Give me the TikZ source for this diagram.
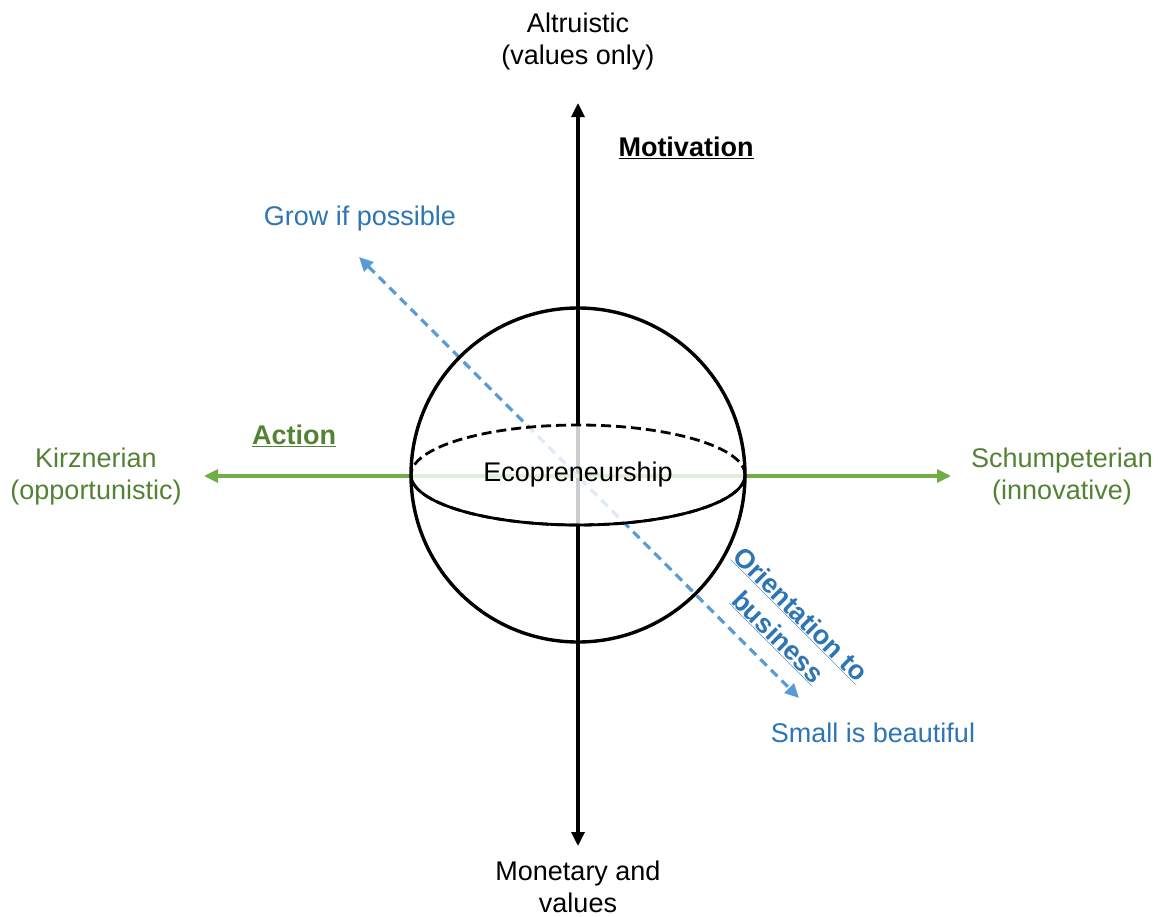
\documentclass[tikz,border=0pt]{standalone}
\usepackage{fontspec}
\setmainfont{Liberation Sans}
\usetikzlibrary{arrows.meta}
\definecolor{bluel}{HTML}{5B9BD5}
\definecolor{blued}{HTML}{2E75B6}
\definecolor{greenl}{HTML}{70AD47}
\definecolor{greend}{HTML}{548235}
\begin{document}
\begin{tikzpicture}[x=1pt,y=-1pt,
  every node/.style={font=\fontsize{27}{32}\selectfont, align=center, inner sep=0pt},
  blackaxis/.style={line width=3.2pt, black, {Triangle[width=13pt,length=14pt]}-{Triangle[width=13pt,length=14pt]}},
  greenaxis/.style={line width=3.2pt, greenl, {Triangle[width=13pt,length=14pt]}-{Triangle[width=13pt,length=14pt]}},
  blueaxis/.style={line width=3.2pt, bluel, dash pattern=on 9pt off 6pt, {Triangle[width=13pt,length=14pt]}-{Triangle[width=13pt,length=14pt]}},
  sphere/.style={line width=3.4pt, black},
  bluetext/.style={text=blued},
  greentext/.style={text=greend},
  headtext/.style={font=\fontsize{27}{32}\selectfont\bfseries}
]
\useasboundingbox (0,0) rectangle (1159,916);
% end points
\coordinate (vt) at (578,103);
\coordinate (vb) at (578,846);
\coordinate (hl) at (204,476);
\coordinate (hr) at (951,476);
\coordinate (dtl) at (359,257);
\coordinate (dbr) at (799,698);
\coordinate (c) at (578,475);
% axes
\draw[blackaxis] (vb) -- (vt);
\draw[greenaxis] (hl) -- (hr);
\draw[blueaxis] (dtl) -- (dbr);
% equator disc (fades lines behind)
\fill[white, opacity=0.8] (c) ellipse [x radius=167pt, y radius=50pt];
\draw[line width=2.8pt, dash pattern=on 10pt off 5pt] (c) ellipse [x radius=167pt, y radius=50pt];
\draw[line width=2.8pt] (c) ++(-167,0) arc [start angle=180, end angle=360, x radius=167pt, y radius=50pt];
% sphere
\draw[sphere] (c) circle [radius=167pt];
% labels
\node (eco) at (578,475) {Ecopreneurship};
\node (alt) at (578,42) {Altruistic\\(values only)};
\node (mon) at (578,887) {Monetary and\\values};
\node[headtext] (mot) at (686,148) {\underline{Motivation}};
\node[headtext, greentext] (act) at (294,436) {\underline{Action}};
\node[greentext] (kir) at (96,477) {Kirznerian\\(opportunistic)};
\node[greentext] (sch) at (1062,477) {Schumpeterian\\(innovative)};
\node[bluetext] (grow) at (360,219) {Grow if possible};
\node[bluetext] (small) at (873,733) {Small is beautiful};
\node[headtext, bluetext, rotate=-45] (ori) at (789,626) {\underline{Orientation to}\\\underline{business}};
\end{tikzpicture}
\end{document}
